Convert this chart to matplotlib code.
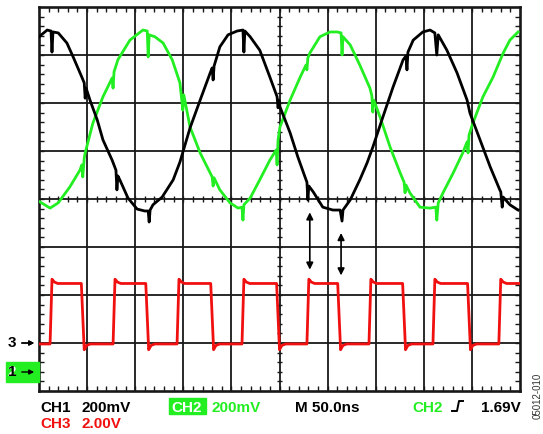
import matplotlib
matplotlib.use('Agg')
import matplotlib.pyplot as plt
from matplotlib.lines import Line2D
import numpy as np

plt.rcParams['font.family'] = ['Liberation Sans', 'DejaVu Sans']

# screen divisions: x 0..10, y 0..8 (bottom = 0)
ch1_x = [0.00, 0.17, 0.25, 0.27, 0.29, 0.40, 0.58, 0.71, 0.89, 0.94, 0.96, 0.98,
         1.06, 1.21, 1.33, 1.52, 1.60, 1.62, 1.64, 1.68, 1.85, 2.04, 2.20, 2.27,
         2.29, 2.31, 2.37, 2.56, 2.79, 2.93, 3.14, 3.35, 3.56, 3.60, 3.62, 3.64,
         3.76, 3.93, 4.12, 4.24, 4.26, 4.28, 4.39, 4.59, 4.80, 4.95, 4.97, 4.99,
         5.01, 5.22, 5.38, 5.53, 5.57, 5.59, 5.61, 5.70, 5.90, 6.11, 6.26, 6.30,
         6.32, 6.47, 6.67, 6.82, 6.94, 7.15, 7.36, 7.57, 7.63, 7.65, 7.67, 7.78,
         7.98, 8.13, 8.23, 8.27, 8.30, 8.48, 8.69, 8.90, 8.96, 9.17, 9.38, 9.58,
         9.60, 9.63, 9.65, 9.79, 9.96]
ch1_y = [7.38, 7.52, 7.50, 7.06, 7.48, 7.46, 7.25, 6.96, 6.54, 6.42, 6.10, 6.31,
         6.06, 5.65, 5.23, 4.81, 4.60, 4.19, 4.48, 4.40, 4.02, 3.79, 3.75, 3.75,
         3.52, 3.77, 3.88, 4.04, 4.40, 4.77, 5.48, 6.06, 6.63, 6.73, 6.48, 6.77,
         7.17, 7.42, 7.50, 7.52, 7.06, 7.50, 7.38, 7.10, 6.54, 6.13, 5.90, 6.06,
         5.92, 5.38, 4.88, 4.46, 4.35, 3.98, 4.27, 4.15, 3.83, 3.77, 3.77, 3.54,
         3.77, 3.98, 4.40, 4.75, 5.08, 5.71, 6.33, 6.90, 6.98, 6.69, 7.06, 7.31,
         7.48, 7.52, 7.46, 7.00, 7.42, 7.10, 6.63, 6.06, 5.79, 5.23, 4.67, 4.19,
         4.15, 3.83, 4.04, 3.88, 3.77]

ch2_x = [0.02, 0.23, 0.40, 0.64, 0.85, 0.89, 0.91, 0.94, 0.96, 1.12, 1.33, 1.52,
         1.54, 1.56, 1.64, 1.89, 2.16, 2.25, 2.27, 2.29, 2.41, 2.58, 2.77, 2.93,
         2.99, 3.01, 3.14, 3.35, 3.56, 3.60, 3.62, 3.64, 3.76, 3.97, 4.14, 4.22,
         4.24, 4.26, 4.39, 4.59, 4.80, 4.93, 4.95, 4.97, 5.01, 5.22, 5.43, 5.55,
         5.57, 5.59, 5.63, 5.84, 6.05, 6.20, 6.28, 6.30, 6.32, 6.47, 6.67, 6.88,
         6.92, 6.94, 6.96, 7.09, 7.30, 7.51, 7.59, 7.61, 7.63, 7.71, 7.92, 8.13,
         8.25, 8.27, 8.30, 8.40, 8.61, 8.81, 8.90, 8.92, 8.94, 9.02, 9.23, 9.44,
         9.65, 9.79, 9.96]
ch2_y = [3.94, 3.81, 3.92, 4.25, 4.60, 4.71, 4.46, 4.85, 4.96, 5.58, 6.13, 6.52,
         6.31, 6.65, 6.90, 7.31, 7.52, 7.50, 6.96, 7.42, 7.38, 7.25, 6.90, 6.42,
         5.85, 6.17, 5.50, 4.96, 4.54, 4.46, 4.27, 4.44, 4.19, 3.92, 3.81, 3.83,
         3.56, 3.88, 4.02, 4.40, 4.81, 5.02, 4.71, 5.23, 5.50, 6.06, 6.54, 6.79,
         6.69, 6.94, 7.04, 7.38, 7.48, 7.48, 7.46, 7.00, 7.38, 7.21, 6.79, 6.31,
         6.15, 5.81, 6.06, 5.71, 5.08, 4.54, 4.35, 4.13, 4.29, 4.13, 3.83, 3.81,
         3.83, 3.56, 3.92, 4.13, 4.54, 4.96, 5.19, 4.96, 5.33, 5.58, 6.13, 6.54,
         7.04, 7.31, 7.48]

# CH3 square wave: edge times (div) and levels (div)
ch3_rise = [0.23, 1.54, 2.87, 4.22, 5.57, 6.86, 8.19, 9.56]
ch3_fall = [0.91, 2.25, 3.60, 4.97, 6.24, 7.59, 8.94]
ch3_low, ch3_high = 0.98, 2.24
ch3_over, ch3_under = 2.33, 0.86

# build square trace from the edges
sx, sy = [0.0], [ch3_low]
edges = sorted([(t, 1) for t in ch3_rise] + [(t, 0) for t in ch3_fall])
for t, up in edges:
    if up:
        sx += [t, t + 0.04, t + 0.09, t + 0.16]
        sy += [ch3_low, ch3_over, ch3_high + 0.03, ch3_high]
    else:
        sx += [t - 0.03, t + 0.03, t + 0.08, t + 0.16]
        sy += [ch3_high, ch3_under, ch3_low - 0.03, ch3_low]
sx.append(10.0)
sy.append(ch3_high)

green = '#22ee22'
red = '#f01010'

fig = plt.figure(figsize=(5.43, 4.34), dpi=100)
W, H = 543, 434
ax = fig.add_axes([39 / W, 1 - 391 / H, 481 / W, 384 / H])
ax.set_xlim(0, 10)
ax.set_ylim(0, 8)

# graticule
for i in range(1, 10):
    ax.axvline(i, color='#181818', lw=1.3, zorder=1)
for j in range(1, 8):
    ax.axhline(j, color='#181818', lw=1.3, zorder=1)
ax.set_xticks([])
ax.set_yticks([])
ax.set_xticks(np.arange(0.2, 10, 0.2), minor=True)
ax.set_yticks(np.arange(0.2, 8, 0.2), minor=True)
ax.tick_params(which='minor', direction='in', length=3.5, width=1.0,
               top=True, right=True, labelbottom=False, labelleft=False,
               color='#181818')
for s in ax.spines.values():
    s.set_linewidth(1.9)
    s.set_color('#181818')
# center-line tick marks
ct = np.arange(0.2, 10, 0.2)
ax.vlines(ct, 4 - 0.06, 4 + 0.06, color='#181818', lw=1.0, zorder=1)
ct = np.arange(0.2, 8, 0.2)
ax.hlines(ct, 5 - 0.06, 5 + 0.06, color='#181818', lw=1.0, zorder=1)

ax.plot(sx, sy, color=red, lw=2.0, zorder=3)
ax.plot(ch2_x, ch2_y, color=green, lw=2.0, zorder=3)
ax.plot(ch1_x, ch1_y, color='black', lw=2.0, zorder=4)

# measurement arrows
arr = dict(arrowstyle='<|-|>', color='black', lw=1.2, mutation_scale=10)
ax.annotate('', xy=(5.63, 2.47), xytext=(5.63, 3.78), arrowprops=arr)
ax.annotate('', xy=(6.28, 2.35), xytext=(6.28, 3.35), arrowprops=arr)


def fx(x):
    return x / W


def fy(y):
    return 1 - y / H


# channel markers on the left
fig.text(fx(8), fy(343), '3', fontsize=11, fontweight='bold', va='center', ha='left')
fig.add_artist(plt.Rectangle((fx(6), fy(382)), 33 / W, 20 / H, color=green,
                             transform=fig.transFigure))
fig.text(fx(8), fy(372), '2', fontsize=11, fontweight='bold', va='center',
         ha='left', color='white')
fig.text(fx(8), fy(372), '1', fontsize=11, fontweight='bold', va='center', ha='left')
for yy in (343, 372):
    fig.add_artist(plt.annotate('', xy=(fx(37), fy(yy)), xytext=(fx(19), fy(yy)),
                                xycoords='figure fraction',
                                arrowprops=dict(arrowstyle='-|>', color='black',
                                                lw=1.0, mutation_scale=7)))

# readout text
fs = 11
fig.text(fx(40), fy(412), 'CH1', fontsize=fs, fontweight='bold', va='baseline')
fig.text(fx(81), fy(412), '200mV', fontsize=fs, fontweight='bold', va='baseline')
fig.text(fx(40), fy(428), 'CH3', fontsize=fs, fontweight='bold', va='baseline', color=red)
fig.text(fx(81), fy(428), '2.00V', fontsize=fs, fontweight='bold', va='baseline', color=red)
fig.add_artist(plt.Rectangle((fx(169), fy(414)), 37 / W, 16 / H, color=green,
                             transform=fig.transFigure))
fig.text(fx(171), fy(412), 'CH2', fontsize=fs, fontweight='bold', va='baseline', color='white')
fig.text(fx(212), fy(412), '200mV', fontsize=fs, fontweight='bold', va='baseline', color=green)
fig.text(fx(295), fy(412), 'M 50.0ns', fontsize=fs, fontweight='bold', va='baseline')
fig.text(fx(412), fy(412), 'CH2', fontsize=fs, fontweight='bold', va='baseline', color=green)
fig.add_artist(Line2D([fx(452), fx(457), fx(459), fx(463)],
                      [fy(411), fy(411), fy(401), fy(401)],
                      transform=fig.transFigure, color='black', lw=1.4))
fig.text(fx(481), fy(412), '1.69V', fontsize=fs, fontweight='bold', va='baseline')
fig.text(fx(538), fy(396), '05012-010', fontsize=7, rotation=90, va='center',
         ha='center', color='#333333')

fig.savefig('out.png', dpi=100)
